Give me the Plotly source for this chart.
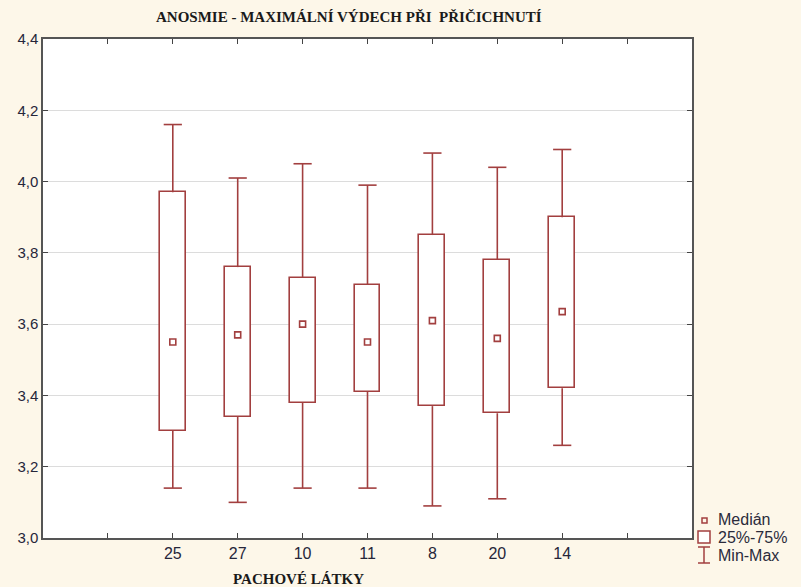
import plotly.graph_objects as go

# Odour substances (categories) and their summary statistics
substances = ["25", "27", "10", "11", "8", "20", "14"]
minimum = [3.14, 3.10, 3.14, 3.14, 3.09, 3.11, 3.26]
q1 = [3.30, 3.34, 3.38, 3.41, 3.37, 3.35, 3.42]
median = [3.55, 3.57, 3.60, 3.55, 3.61, 3.56, 3.635]
q3 = [3.97, 3.76, 3.73, 3.71, 3.85, 3.78, 3.90]
maximum = [4.16, 4.01, 4.05, 3.99, 4.08, 4.04, 4.09]

# Category slots: one empty slot on each side of the data
positions = list(range(2, 2 + len(substances)))
tick_positions = list(range(1, 10))
tick_labels = [""] + substances + [""]

RED = "#a23f3f"
W, H = 801, 587
M_L, M_R, M_T, M_B = 43, 109, 39, 49
PLOT_W = W - M_L - M_R
PLOT_H = H - M_T - M_B


def px_x(px):
    return (px - M_L) / PLOT_W


def px_y(py):
    return (H - M_B - py) / PLOT_H


fig = go.Figure()

# 25%-75% boxes
fig.add_trace(go.Bar(
    x=positions,
    y=[b - a for a, b in zip(q1, q3)],
    base=q1,
    width=0.4,
    marker=dict(color="white", line=dict(color=RED, width=1.6)),
    showlegend=False,
    hoverinfo="skip",
))

# Whiskers (min..q1 and q3..max)
wx, wy = [], []
for p, lo, a, b, hi in zip(positions, minimum, q1, q3, maximum):
    wx += [p, p, None, p, p, None]
    wy += [lo, a, None, b, hi, None]
fig.add_trace(go.Scatter(
    x=wx, y=wy, mode="lines",
    line=dict(color=RED, width=1.6),
    showlegend=False, hoverinfo="skip",
))

# Whisker caps
fig.add_trace(go.Scatter(
    x=positions + positions,
    y=minimum + maximum,
    mode="markers",
    marker=dict(symbol="line-ew", size=13, color=RED,
                line=dict(color=RED, width=1.6)),
    showlegend=False, hoverinfo="skip",
))

# Medians
fig.add_trace(go.Scatter(
    x=positions, y=median, mode="markers",
    marker=dict(symbol="square-open", size=6, color=RED,
                line=dict(color=RED, width=1.6)),
    showlegend=False,
))

# Legend drawn beside the plot area
legend_font = dict(family="Liberation Sans, Arial, sans-serif", size=16, color="#2b2b3b")
shapes = []
annotations = []
legend_items = [("Medián", 519), ("25%-75%", 537), ("Min-Max", 555)]
for text, py in legend_items:
    annotations.append(dict(
        text=text, x=px_x(716), y=px_y(py), xref="paper", yref="paper",
        xanchor="left", yanchor="middle", showarrow=False, font=legend_font,
    ))
# median symbol
shapes.append(dict(type="rect", xref="paper", yref="paper",
                   x0=px_x(702), x1=px_x(707), y0=px_y(523), y1=px_y(518),
                   line=dict(color=RED, width=1.5)))
# box symbol
shapes.append(dict(type="rect", xref="paper", yref="paper",
                   x0=px_x(698), x1=px_x(710), y0=px_y(543), y1=px_y(531),
                   line=dict(color=RED, width=1.5), fillcolor="white"))
# min-max symbol
for seg in [((704, 547), (704, 563)), ((698, 547), (710, 547)), ((698, 563), (710, 563))]:
    (x0, y0), (x1, y1) = seg
    shapes.append(dict(type="line", xref="paper", yref="paper",
                       x0=px_x(x0), x1=px_x(x1), y0=px_y(y0), y1=px_y(y1),
                       line=dict(color=RED, width=1.5)))

# Titles
title_font = dict(family="Liberation Serif, Times New Roman, serif", size=15, color="#1a1a1a")
annotations.append(dict(
    text="<b>ANOSMIE - MAXIMÁLNÍ VÝDECH PŘI  PŘIČICHNUTÍ</b>",
    x=px_x(349), y=px_y(17), xref="paper", yref="paper",
    xanchor="center", yanchor="middle", showarrow=False, font=title_font,
))
annotations.append(dict(
    text="<b>PACHOVÉ LÁTKY</b>",
    x=px_x(298), y=px_y(579), xref="paper", yref="paper",
    xanchor="center", yanchor="middle", showarrow=False, font=title_font,
))

fig.update_layout(
    width=W, height=H,
    margin=dict(l=M_L, r=M_R, t=M_T, b=M_B, pad=0),
    paper_bgcolor="#fdf7e9",
    plot_bgcolor="white",
    separators=",.",
    showlegend=False,
    shapes=shapes,
    annotations=annotations,
    bargap=0,
)
fig.update_xaxes(
    range=[0, 10],
    tickmode="array", tickvals=tick_positions, ticktext=tick_labels,
    ticks="inside", ticklen=5, tickcolor="#444", tickwidth=1,
    showline=True, linecolor="#555", linewidth=1.5, mirror="ticks",
    showgrid=False, zeroline=False,
    tickfont=dict(family="Liberation Sans, Arial, sans-serif", size=16, color="#26263a"),
)
fig.update_yaxes(
    range=[3.0, 4.4], dtick=0.2, tick0=3.0, tickformat=".1f",
    ticks="inside", ticklen=5, tickcolor="#444", tickwidth=1,
    showline=True, linecolor="#555", linewidth=1.5, mirror="ticks",
    showgrid=True, gridcolor="#dcdcdc", gridwidth=1.3, zeroline=False,
    tickfont=dict(family="Liberation Sans, Arial, sans-serif", size=15, color="#26263a"),
)

fig.write_html("out.html")
